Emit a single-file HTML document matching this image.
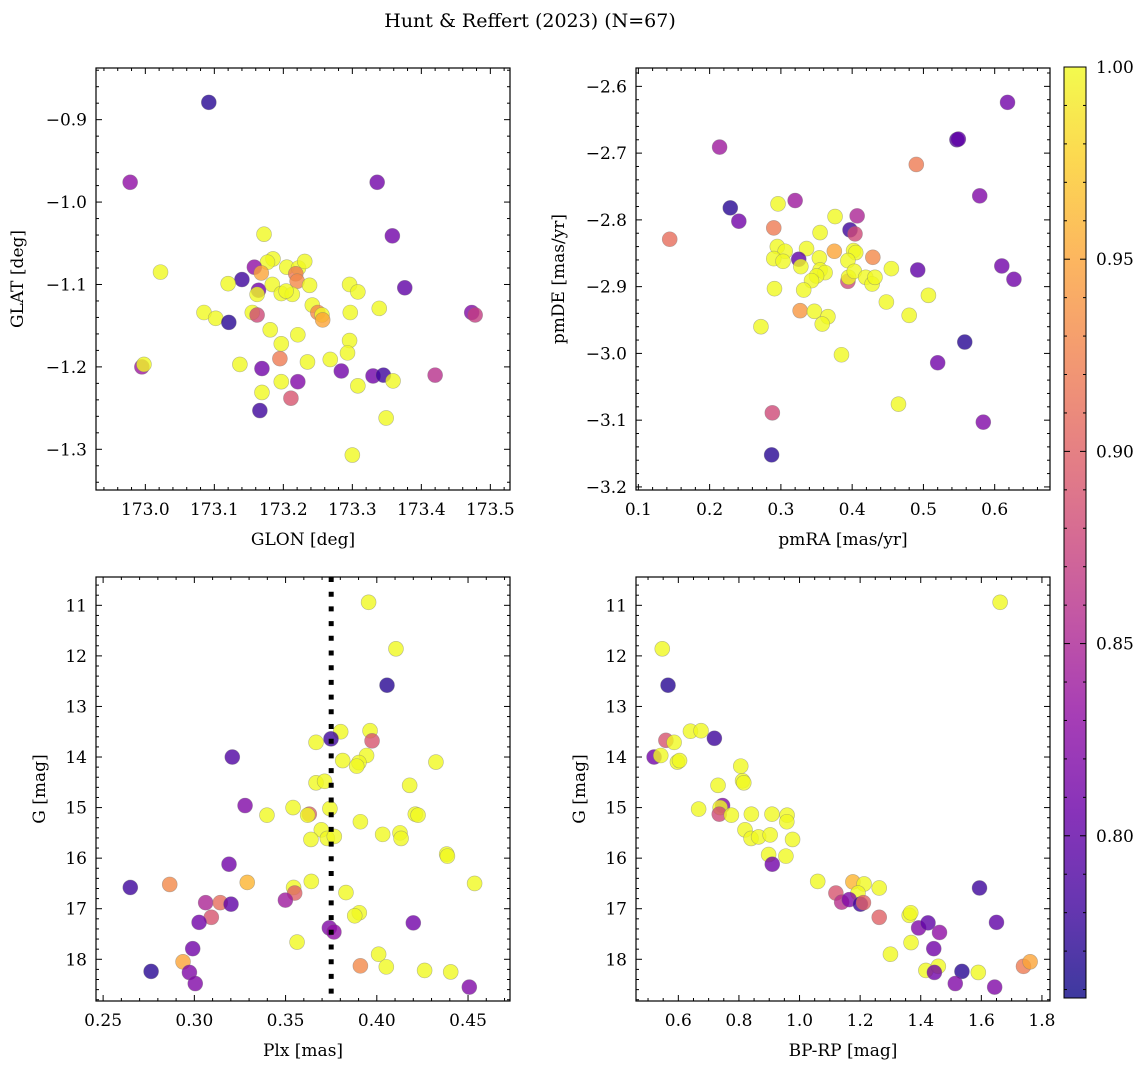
<!DOCTYPE html>
<html><head><meta charset="utf-8"><style>
html,body{margin:0;padding:0;background:#fff;}
svg{display:block;font-family:"DejaVu Serif","Liberation Serif",serif;}
</style></head><body>
<svg id="fig" width="1148" height="1067" viewBox="0 0 1148 1067" xmlns="http://www.w3.org/2000/svg">
<text x="530" y="27" text-anchor="middle" font-size="19">Hunt &amp; Reffert (2023) (N=67)</text>
</svg>
<script>
// ---- data: top-left GLON/GLAT ----
const glonTL=[173.092,172.978,173.336,173.358,173.376,173.473,173.478,173.420,172.995,172.998,173.022,173.172,173.185,173.177,173.158,173.168,173.140,173.120,173.164,173.162,173.184,173.205,173.222,173.231,173.218,173.220,173.238,173.197,173.213,173.204,173.085,173.102,173.121,173.155,173.162,173.242,173.250,173.256,173.257,173.296,173.308,173.297,173.339,173.181,173.221,173.197,173.296,173.293,173.195,173.137,173.169,173.235,173.268,173.284,173.330,173.345,173.359,173.197,173.221,173.308,173.169,173.211,173.166,173.349,173.300];
const glatTL=[-0.879,-0.976,-0.976,-1.041,-1.104,-1.134,-1.137,-1.210,-1.200,-1.197,-1.085,-1.039,-1.069,-1.073,-1.079,-1.086,-1.094,-1.099,-1.107,-1.112,-1.100,-1.079,-1.080,-1.072,-1.087,-1.096,-1.101,-1.111,-1.112,-1.108,-1.134,-1.141,-1.146,-1.134,-1.137,-1.125,-1.134,-1.137,-1.143,-1.100,-1.109,-1.134,-1.129,-1.155,-1.161,-1.172,-1.168,-1.183,-1.190,-1.197,-1.202,-1.194,-1.191,-1.205,-1.211,-1.210,-1.217,-1.218,-1.218,-1.223,-1.231,-1.238,-1.253,-1.262,-1.307];
const probTL=[.77,.83,.81,.81,.80,.82,.87,.86,.84,1,1,1,1,1,.83,.95,.78,1,.81,1,1,1,1,1,.92,.93,1,1,1,1,1,1,.77,1,.88,1,.93,1,.95,1,1,1,1,1,1,1,1,1,.92,1,.81,1,1,.81,.81,.78,1,1,.82,1,1,.89,.78,1,1];
// ---- data: top-right pmRA/pmDE ----
const pmraTR=[0.618,0.547,0.549,0.214,0.490,0.579,0.229,0.320,0.296,0.241,0.376,0.407,0.290,0.397,0.404,0.144,0.355,0.295,0.306,0.336,0.290,0.303,0.325,0.328,0.375,0.354,0.402,0.405,0.394,0.429,0.455,0.492,0.610,0.627,0.355,0.362,0.350,0.343,0.394,0.395,0.403,0.419,0.428,0.432,0.291,0.332,0.507,0.448,0.327,0.347,0.272,0.366,0.358,0.480,0.558,0.385,0.520,0.465,0.288,0.584,0.287];
const pmdeTR=[-2.624,-2.680,-2.679,-2.691,-2.717,-2.764,-2.782,-2.771,-2.776,-2.802,-2.795,-2.794,-2.812,-2.815,-2.821,-2.829,-2.819,-2.840,-2.847,-2.843,-2.858,-2.862,-2.859,-2.870,-2.847,-2.857,-2.846,-2.849,-2.861,-2.856,-2.873,-2.875,-2.869,-2.889,-2.875,-2.879,-2.884,-2.891,-2.892,-2.886,-2.877,-2.886,-2.896,-2.886,-2.903,-2.905,-2.913,-2.923,-2.936,-2.937,-2.960,-2.945,-2.956,-2.943,-2.983,-3.002,-3.014,-3.076,-3.089,-3.103,-3.152];
const probTR=[.81,.79,.80,.84,.92,.82,.77,.84,1,.81,1,.85,.92,.78,.88,.91,1,1,1,1,1,1,.80,1,.95,1,1,1,1,.93,1,.80,.81,.81,1,1,1,1,.88,1,1,1,1,1,1,1,1,1,.94,1,1,1,1,1,.77,1,.81,1,.88,.82,.77];
// ---- data: bottom-left Plx/G ----
const plxBL=[0.3955,0.4105,0.4056,0.3802,0.3963,0.3974,0.3749,0.3667,0.3208,0.3813,0.3944,0.3902,0.3890,0.4324,0.3667,0.3714,0.4180,0.3278,0.3541,0.3398,0.3630,0.3621,0.3743,0.3910,0.4211,0.4226,0.3696,0.3639,0.3729,0.3767,0.4032,0.4127,0.4133,0.4383,0.4387,0.3190,0.2649,0.2865,0.3290,0.3544,0.3550,0.3641,0.3831,0.4536,0.3499,0.3062,0.3142,0.3201,0.3093,0.3026,0.3904,0.3879,0.4200,0.3740,0.3765,0.3563,0.2991,0.4010,0.2938,0.3910,0.4052,0.4262,0.4405,0.2763,0.2973,0.3005,0.4507];
const gBL=[10.94,11.86,12.58,13.50,13.48,13.68,13.64,13.71,14.00,14.07,13.97,14.11,14.18,14.10,14.51,14.48,14.56,14.96,15.00,15.15,15.13,15.15,15.02,15.28,15.13,15.15,15.44,15.63,15.61,15.57,15.53,15.50,15.61,15.92,15.96,16.12,16.58,16.52,16.48,16.58,16.69,16.46,16.68,16.50,16.83,16.88,16.88,16.91,17.17,17.27,17.08,17.14,17.28,17.38,17.46,17.66,17.79,17.90,18.05,18.13,18.15,18.22,18.25,18.24,18.26,18.48,18.55];
const probBL=[1,1,.77,1,1,.89,.78,1,.79,1,1,1,1,1,1,1,1,.82,1,1,.90,1,1,1,1,1,1,1,1,1,1,1,1,1,1,.81,.78,.93,.96,1,.90,1,1,1,.84,.85,.91,.80,.89,.81,1,1,.81,.82,.83,1,.81,1,.95,.93,1,1,1,.77,.82,.82,.82];
const plxLine=[0.375];
// ---- data: bottom-right BP-RP/G ----
const bprpBR=[1.662,0.547,0.566,0.640,0.675,0.719,0.559,0.586,0.520,0.542,0.597,0.604,0.806,0.812,0.816,0.731,0.667,0.746,0.738,0.735,0.775,0.841,0.909,0.959,0.958,0.820,0.840,0.865,0.903,0.977,0.898,0.955,0.910,1.060,1.176,1.213,1.193,1.263,1.120,1.139,1.164,1.201,1.211,1.263,1.362,1.367,1.393,1.424,1.462,1.594,1.650,1.368,1.443,1.300,1.417,1.458,1.445,1.536,1.590,1.514,1.644,1.739,1.761];
const gBR=[10.94,11.86,12.58,13.49,13.48,13.63,13.67,13.71,14.00,13.97,14.10,14.07,14.18,14.47,14.51,14.56,15.03,14.96,15.00,15.13,15.15,15.13,15.13,15.15,15.28,15.44,15.61,15.58,15.54,15.63,15.93,15.96,16.12,16.46,16.47,16.51,16.69,16.59,16.69,16.87,16.82,16.91,16.88,17.17,17.13,17.08,17.38,17.28,17.47,16.59,17.27,17.67,17.79,17.90,18.22,18.14,18.26,18.24,18.26,18.48,18.55,18.14,18.05];
const probBR=[1,1,.77,1,1,.78,.89,1,.81,1,1,1,1,1,1,1,1,.82,1,.88,1,1,1,1,1,1,1,1,1,1,1,1,.81,1,.96,1,1,1,.89,.86,.82,.78,.90,.90,1,1,.82,.80,.83,.78,.80,1,.81,1,1,1,.81,.77,1,.82,.82,.92,.95];
// colorbar
const cbTicks=[0.80,0.85,0.90,0.95,1.00];
const vmin=0.7578, vmax=1.0;

const NS="http://www.w3.org/2000/svg";
const svg=document.getElementById('fig');
function mk(tag,attrs,parent){const e=document.createElementNS(NS,tag);for(const k in attrs)e.setAttribute(k,attrs[k]);(parent||svg).appendChild(e);return e;}
const stops=[[0,[13,8,135]],[0.1,[65,4,157]],[0.2,[106,0,168]],[0.3,[143,13,164]],[0.4,[177,42,144]],[0.5,[204,71,120]],[0.6,[225,100,98]],[0.7,[242,132,75]],[0.8,[252,166,54]],[0.9,[252,206,37]],[1,[240,249,33]]];
function plasma(t){t=Math.max(0,Math.min(1,t));for(let i=1;i<stops.length;i++){if(t<=stops[i][0]){const a=stops[i-1],b=stops[i];const f=(t-a[0])/(b[0]-a[0]);const c=a[1].map((v,j)=>Math.round(v+(b[1][j]-v)*f));return `rgb(${c[0]},${c[1]},${c[2]})`;}}return 'rgb(240,249,33)';}
function fmt(v,d){const s=Math.abs(v).toFixed(d);return (v<-1e-9?'\u2212':'')+s;}

function panel(o){
  const g=mk('g',{});
  
  
  const X=v=>o.x0+(v-o.xmin)/(o.xmax-o.xmin)*(o.x1-o.x0);
  const Y=o.yinv?(v=>o.y0+(v-o.ymin)/(o.ymax-o.ymin)*(o.y1-o.y0)):(v=>o.y1-(v-o.ymin)/(o.ymax-o.ymin)*(o.y1-o.y0));
  for(let i=0;i<o.xs.length;i++){
    const c=mk('circle',{cx:X(o.xs[i]),cy:Y(o.ys[i]),r:7.5,fill:plasma((o.ps[i]-vmin)/(vmax-vmin)),'fill-opacity':0.8,stroke:'#777','stroke-opacity':0.5,'stroke-width':0.6},g);
    
    
  }
  if(o.vline){
    const l=mk('line',{x1:X(o.vline),x2:X(o.vline),y1:o.y0,y2:o.y1,stroke:'#000','stroke-width':5,'stroke-dasharray':'5 9.7'},g);
    
    
  }
  const fr=mk('rect',{x:o.x0,y:o.y0,width:o.x1-o.x0,height:o.y1-o.y0,fill:'none',stroke:'#000','stroke-width':1.2},g);
  
  
  const ep=1e-9;
  for(let v=Math.ceil(o.xmin/o.xminor-ep)*o.xminor;v<=o.xmax+ep;v+=o.xminor){
    const px=X(v);const isMaj=Math.abs(v/o.xmajor-Math.round(v/o.xmajor))<1e-6;const L=isMaj?6:3;
    mk('line',{x1:px,x2:px,y1:o.y1,y2:o.y1-L,stroke:'#000','stroke-width':1},g);
    mk('line',{x1:px,x2:px,y1:o.y0,y2:o.y0+L,stroke:'#000','stroke-width':1},g);
    if(isMaj){const t=mk('text',{x:px,y:o.y1+25,'text-anchor':'middle','font-size':17},g);t.textContent=fmt(v,o.xdec);
      
      }
  }
  for(let v=Math.ceil(o.ymin/o.yminor-ep)*o.yminor;v<=o.ymax+ep;v+=o.yminor){
    const py=Y(v);const isMaj=Math.abs(v/o.ymajor-Math.round(v/o.ymajor))<1e-6;const L=isMaj?6:3;
    mk('line',{x1:o.x0,x2:o.x0+L,y1:py,y2:py,stroke:'#000','stroke-width':1},g);
    mk('line',{x1:o.x1,x2:o.x1-L,y1:py,y2:py,stroke:'#000','stroke-width':1},g);
    if(isMaj){const t=mk('text',{x:o.x0-9,y:py+6,'text-anchor':'end','font-size':17},g);t.textContent=fmt(v,o.ydec);
      
      }
  }
  const xl=mk('text',{x:(o.x0+o.x1)/2,y:o.y1+55,'text-anchor':'middle','font-size':17},g);xl.textContent=o.xlabel;
  
  
  const yl=mk('text',{x:0,y:0,'text-anchor':'middle','font-size':17,transform:`translate(${o.ylx},${(o.y0+o.y1)/2}) rotate(-90)`},g);yl.textContent=o.ylabel;
  
  
}
panel({name:'glon-glat-panel',xs:glonTL,ys:glatTL,ps:probTL,x0:96,x1:510,y0:68,y1:490,xmin:172.9285,xmax:173.5285,ymin:-1.3494,ymax:-0.8373,xmajor:0.1,xminor:0.02,ymajor:0.1,yminor:0.02,xdec:1,ydec:1,xlabel:'GLON [deg]',ylabel:'GLAT [deg]',ylx:23});
panel({name:'pm-panel',xs:pmraTR,ys:pmdeTR,ps:probTR,x0:636,x1:1050,y0:68,y1:490,xmin:0.0967,xmax:0.6776,ymin:-3.2046,ymax:-2.5725,xmajor:0.1,xminor:0.02,ymajor:0.1,yminor:0.02,xdec:1,ydec:1,xlabel:'pmRA [mas/yr]',ylabel:'pmDE [mas/yr]',ylx:564});
panel({name:'plx-g-panel',xs:plxBL,ys:gBL,ps:probBL,x0:96,x1:510,y0:577,y1:1001,xmin:0.2461,xmax:0.4730,ymin:10.44,ymax:18.825,yinv:true,xmajor:0.05,xminor:0.01,ymajor:1,yminor:0.2,xdec:2,ydec:0,xlabel:'Plx [mas]',ylabel:'G [mag]',ylx:45,vline:plxLine[0]});
panel({name:'cmd-panel',xs:bprpBR,ys:gBR,ps:probBR,x0:636,x1:1050,y0:577,y1:1001,xmin:0.4603,xmax:1.8266,ymin:10.44,ymax:18.825,yinv:true,xmajor:0.2,xminor:0.05,ymajor:1,yminor:0.2,xdec:1,ydec:0,xlabel:'BP-RP [mag]',ylabel:'G [mag]',ylx:585});

const cb=mk('g',{});


const defs=mk('defs',{},cb);
const lg=mk('linearGradient',{id:'pl',x1:0,y1:1,x2:0,y2:0},defs);
for(let i=0;i<=20;i++){mk('stop',{offset:i/20,'stop-color':plasma(i/20)},lg);}
const cbx0=1064,cbx1=1086,cby0=67,cby1=998;
mk('rect',{x:cbx0,y:cby0,width:cbx1-cbx0,height:cby1-cby0,fill:'url(#pl)','fill-opacity':0.8},cb);
mk('rect',{x:cbx0,y:cby0,width:cbx1-cbx0,height:cby1-cby0,fill:'none',stroke:'#000','stroke-width':1},cb);
const CY=v=>cby1-(v-vmin)/(vmax-vmin)*(cby1-cby0);
for(let v=0.76;v<=1.0001;v+=0.01){const py=CY(v);const maj=Math.abs(v*20-Math.round(v*20))<1e-6;
  mk('line',{x1:cbx1,x2:cbx1-(maj?6:3),y1:py,y2:py,stroke:'#000','stroke-width':1},cb);
  mk('line',{x1:cbx0,x2:cbx0+(maj?6:3),y1:py,y2:py,stroke:'#000','stroke-width':1},cb);}
for(const v of cbTicks){const t=mk('text',{x:cbx1+10,y:CY(v)+6,'font-size':17},cb);t.textContent=v.toFixed(2);
  
  }
</script>
</body></html>
